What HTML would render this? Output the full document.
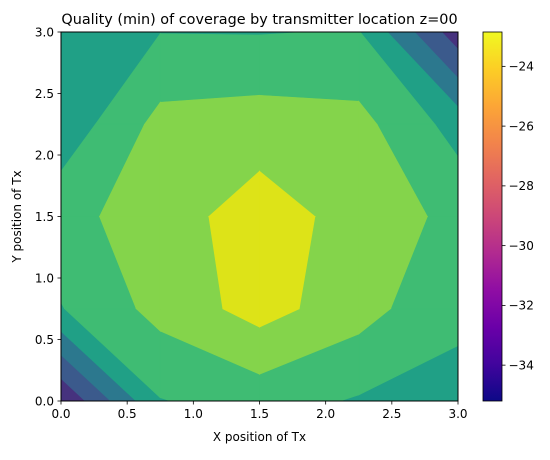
<!DOCTYPE html>
<html><head><meta charset="utf-8"><style>
body{margin:0;background:#fff}
svg text{font-family:"DejaVu Sans","Liberation Sans",sans-serif;fill:#000}
</style></head><body>
<svg id="chart" width="550" height="455" viewBox="0 0 550 455" xmlns="http://www.w3.org/2000/svg">
<defs>
<linearGradient id="plasma" x1="0" y1="1" x2="0" y2="0">
<stop offset="0" stop-color="#0d0887"/><stop offset="0.1" stop-color="#41049d"/><stop offset="0.2" stop-color="#6a00a8"/><stop offset="0.3" stop-color="#8f0da4"/><stop offset="0.4" stop-color="#b12a90"/><stop offset="0.5" stop-color="#cc4778"/><stop offset="0.6" stop-color="#e16462"/><stop offset="0.7" stop-color="#f2844b"/><stop offset="0.8" stop-color="#fca636"/><stop offset="0.9" stop-color="#fcce25"/><stop offset="1" stop-color="#f0f921"/>
</linearGradient>
<clipPath id="plotclip"><rect x="61" y="32" width="397" height="369"/></clipPath>
</defs>
<g id="fills" clip-path="url(#plotclip)"></g>
<rect x="61" y="32" width="397" height="369" fill="none" stroke="#000" stroke-width="1"/>
<g id="axes"></g>
<text x="259.5" y="24" font-size="14.4" text-anchor="middle">Quality (min) of coverage by transmitter location z=00</text>
<text x="259.5" y="441" font-size="12" text-anchor="middle">X position of Tx</text>
<text x="0" y="0" font-size="12" text-anchor="middle" transform="translate(21,216.5) rotate(-90)">Y position of Tx</text>
<rect x="483" y="32" width="19" height="369" fill="url(#plasma)" stroke="#000" stroke-width="0.8"/>
<g id="cbar"></g>
</svg>
<script>
const gridX = [0, 0.75, 1.5, 2.25, 3];
const gridY = [0, 0.75, 1.5, 2.25, 3];
const row0 = [-35.9, -28.1, -27.14, -28.2, -28.36];
const row1 = [-28.1, -25.33, -23.22, -25.17, -27.76];
const row2 = [-26.66, -24.96, -23.0, -24.79, -26.54];
const row3 = [-29.4, -25.36, -25.04, -25.37, -28.8];
const row4 = [-29.9, -28.05, -28.1, -27.9, -35.2];
const levels = [-36, -34, -32, -30, -28, -26, -24, -22];
const bandColors = ['#46327e', '#3b5a8c', '#2c788e', '#20a086', '#3fbc73', '#84d44b', '#dde318'];
const xTicks = [0, 0.5, 1, 1.5, 2, 2.5, 3];
const xTickLabels = ['0.0', '0.5', '1.0', '1.5', '2.0', '2.5', '3.0'];
const yTicks = [0, 0.5, 1, 1.5, 2, 2.5, 3];
const yTickLabels = ['0.0', '0.5', '1.0', '1.5', '2.0', '2.5', '3.0'];
const cbTicks = [-24, -26, -28, -30, -32, -34];
const cbTickLabels = ['\u221224', '\u221226', '\u221228', '\u221230', '\u221232', '\u221234'];
const cbMin = -35.2, cbMax = -22.85;

const NS = 'http://www.w3.org/2000/svg';
const grid = [row0, row1, row2, row3, row4];
const px = x => 61 + x / 3 * 397;
const py = y => 401 - y / 3 * 369;
const cy = v => 401 - (v - cbMin) / (cbMax - cbMin) * 369;

function clip(poly, thr, keepAbove) {
  const out = [];
  const inside = p => keepAbove ? p[2] >= thr : p[2] <= thr;
  for (let i = 0; i < poly.length; i++) {
    const a = poly[i], b = poly[(i + 1) % poly.length];
    const ia = inside(a), ib = inside(b);
    if (ia) out.push(a);
    if (ia !== ib) {
      const t = (thr - a[2]) / (b[2] - a[2]);
      out.push([a[0] + t * (b[0] - a[0]), a[1] + t * (b[1] - a[1]), thr]);
    }
  }
  return out;
}

const fills = document.getElementById('fills');
for (let k = 0; k < bandColors.length; k++) {
  const g = document.createElementNS(NS, 'g');
  
  
  for (let j = 0; j < gridY.length - 1; j++) {
    for (let i = 0; i < gridX.length - 1; i++) {
      let poly = [
        [gridX[i], gridY[j], grid[j][i]],
        [gridX[i + 1], gridY[j], grid[j][i + 1]],
        [gridX[i + 1], gridY[j + 1], grid[j + 1][i + 1]],
        [gridX[i], gridY[j + 1], grid[j + 1][i]]
      ];
      poly = clip(poly, levels[k], true);
      if (poly.length) poly = clip(poly, levels[k + 1], false);
      if (poly.length < 3) continue;
      const p = document.createElementNS(NS, 'polygon');
      
      
      p.setAttribute('points', poly.map(q => px(q[0]).toFixed(2) + ',' + py(q[1]).toFixed(2)).join(' '));
      p.setAttribute('fill', bandColors[k]);
      p.setAttribute('stroke', bandColors[k]);
      p.setAttribute('stroke-width', '0.7');
      g.appendChild(p);
    }
  }
  fills.appendChild(g);
}

const axes = document.getElementById('axes');
function add(parent, tag, attrs, text) {
  const e = document.createElementNS(NS, tag);
  for (const k in attrs) e.setAttribute(k, attrs[k]);
  if (text !== undefined) e.textContent = text;
  parent.appendChild(e);
  return e;
}
xTicks.forEach((v, i) => {
  const l = add(axes, 'line', {x1: px(v), x2: px(v), y1: 401, y2: 404.5, stroke: '#000', 'stroke-width': 0.8});
  
  
  const t = add(axes, 'text', {x: px(v), y: 418, 'font-size': 12, 'text-anchor': 'middle'}, xTickLabels[i]);
  
  
});
yTicks.forEach((v, i) => {
  const l = add(axes, 'line', {x1: 57.5, x2: 61, y1: py(v), y2: py(v), stroke: '#000', 'stroke-width': 0.8});
  
  
  const t = add(axes, 'text', {x: 54, y: py(v) + 4.3, 'font-size': 12, 'text-anchor': 'end'}, yTickLabels[i]);
  
  
});
const cbar = document.getElementById('cbar');
cbTicks.forEach((v, i) => {
  const l = add(cbar, 'line', {x1: 502, x2: 505.5, y1: cy(v), y2: cy(v), stroke: '#000', 'stroke-width': 0.8});
  
  
  const t = add(cbar, 'text', {x: 508.5, y: cy(v) + 4.3, 'font-size': 12}, cbTickLabels[i]);
  
  
});
</script>
</body></html>
